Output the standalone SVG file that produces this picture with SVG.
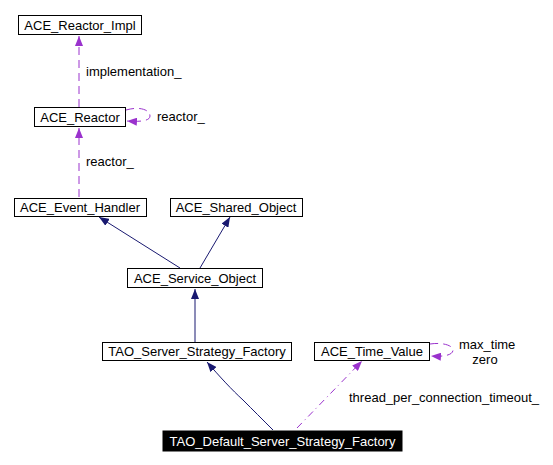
<svg xmlns="http://www.w3.org/2000/svg" width="553" height="465" viewBox="0 0 553 465">
<defs>
<style>
.n rect{fill:#fff;stroke:#000;stroke-width:1}
text{font-family:"Liberation Sans",Arial,sans-serif;font-size:13px;fill:#000}
.n text{text-anchor:middle}
.inh{fill:none;stroke:#191970;stroke-width:1}
.use{fill:none;stroke:#9a32cd;stroke-width:1;stroke-dasharray:8,5}
.dd{fill:none;stroke:#9a32cd;stroke-width:1;stroke-dasharray:7,4,1,4}
</style>
<marker id="ab" markerWidth="10" markerHeight="8" refX="10" refY="4" orient="auto" markerUnits="userSpaceOnUse">
<path d="M0,0L10,4L0,8Z" fill="#191970"/>
</marker>
<marker id="ap" markerWidth="10" markerHeight="8" refX="10" refY="4" orient="auto" markerUnits="userSpaceOnUse">
<path d="M0,0L10,4L0,8Z" fill="#9a32cd"/>
</marker>
</defs>
<rect width="553" height="465" fill="#fff"/>
<g id="edges">
<path class="use" d="M79,107L79,36" marker-end="url(#ap)"/>
<text x="86" y="76">implementation_</text>
<path class="use" d="M126,110C140,106 150,110 150,116C150,121 140,122 127,121" marker-end="url(#ap)"/>
<text x="157" y="121">reactor_</text>
<path class="use" d="M79,197L79,128" marker-end="url(#ap)"/>
<text x="86" y="166">reactor_</text>
<path class="inh" d="M180,268L99,217" marker-end="url(#ab)"/>
<path class="inh" d="M200,268L230,217" marker-end="url(#ab)"/>
<path class="inh" d="M195,342L195,289" marker-end="url(#ab)"/>
<path class="inh" d="M273,430C262,419 253,410 243,400C232,390 220,377 207,362" marker-end="url(#ab)"/>
<path class="dd" d="M297,428L362,361" marker-end="url(#ap)"/>
<text x="349" y="402">thread_per_connection_timeout_</text>
<path class="use" d="M430,344C444,342 453,346 453,350C453,355 444,357 431,356" marker-end="url(#ap)"/>
<text x="459" y="349">max_time</text>
<text x="485" y="364" text-anchor="middle">zero</text>
</g>
<g id="ACE_Reactor_Impl" class="n"><rect x="18.5" y="15.5" width="123" height="19"/><text x="80" y="30">ACE_Reactor_Impl</text></g>
<g id="ACE_Reactor" class="n"><rect x="34.5" y="107.5" width="91" height="19"/><text x="80" y="122">ACE_Reactor</text></g>
<g id="ACE_Event_Handler" class="n"><rect x="14.5" y="198.5" width="132" height="18"/><text x="80" y="212">ACE_Event_Handler</text></g>
<g id="ACE_Shared_Object" class="n"><rect x="170.5" y="198.5" width="132" height="18"/><text x="236" y="212">ACE_Shared_Object</text></g>
<g id="ACE_Service_Object" class="n"><rect x="127.5" y="268.5" width="135" height="19"/><text x="195" y="283">ACE_Service_Object</text></g>
<g id="TAO_Server_Strategy_Factory" class="n"><rect x="102.5" y="342.5" width="189" height="18"/><text x="197" y="356">TAO_Server_Strategy_Factory</text></g>
<g id="ACE_Time_Value" class="n"><rect x="314.5" y="342.5" width="115" height="18"/><text x="372" y="356">ACE_Time_Value</text></g>
<g id="TAO_Default_Server_Strategy_Factory" class="n"><rect x="163" y="431" width="239" height="20" style="fill:#000;stroke:#000"/><text x="282.5" y="446" style="fill:#fff">TAO_Default_Server_Strategy_Factory</text></g>
</svg>
